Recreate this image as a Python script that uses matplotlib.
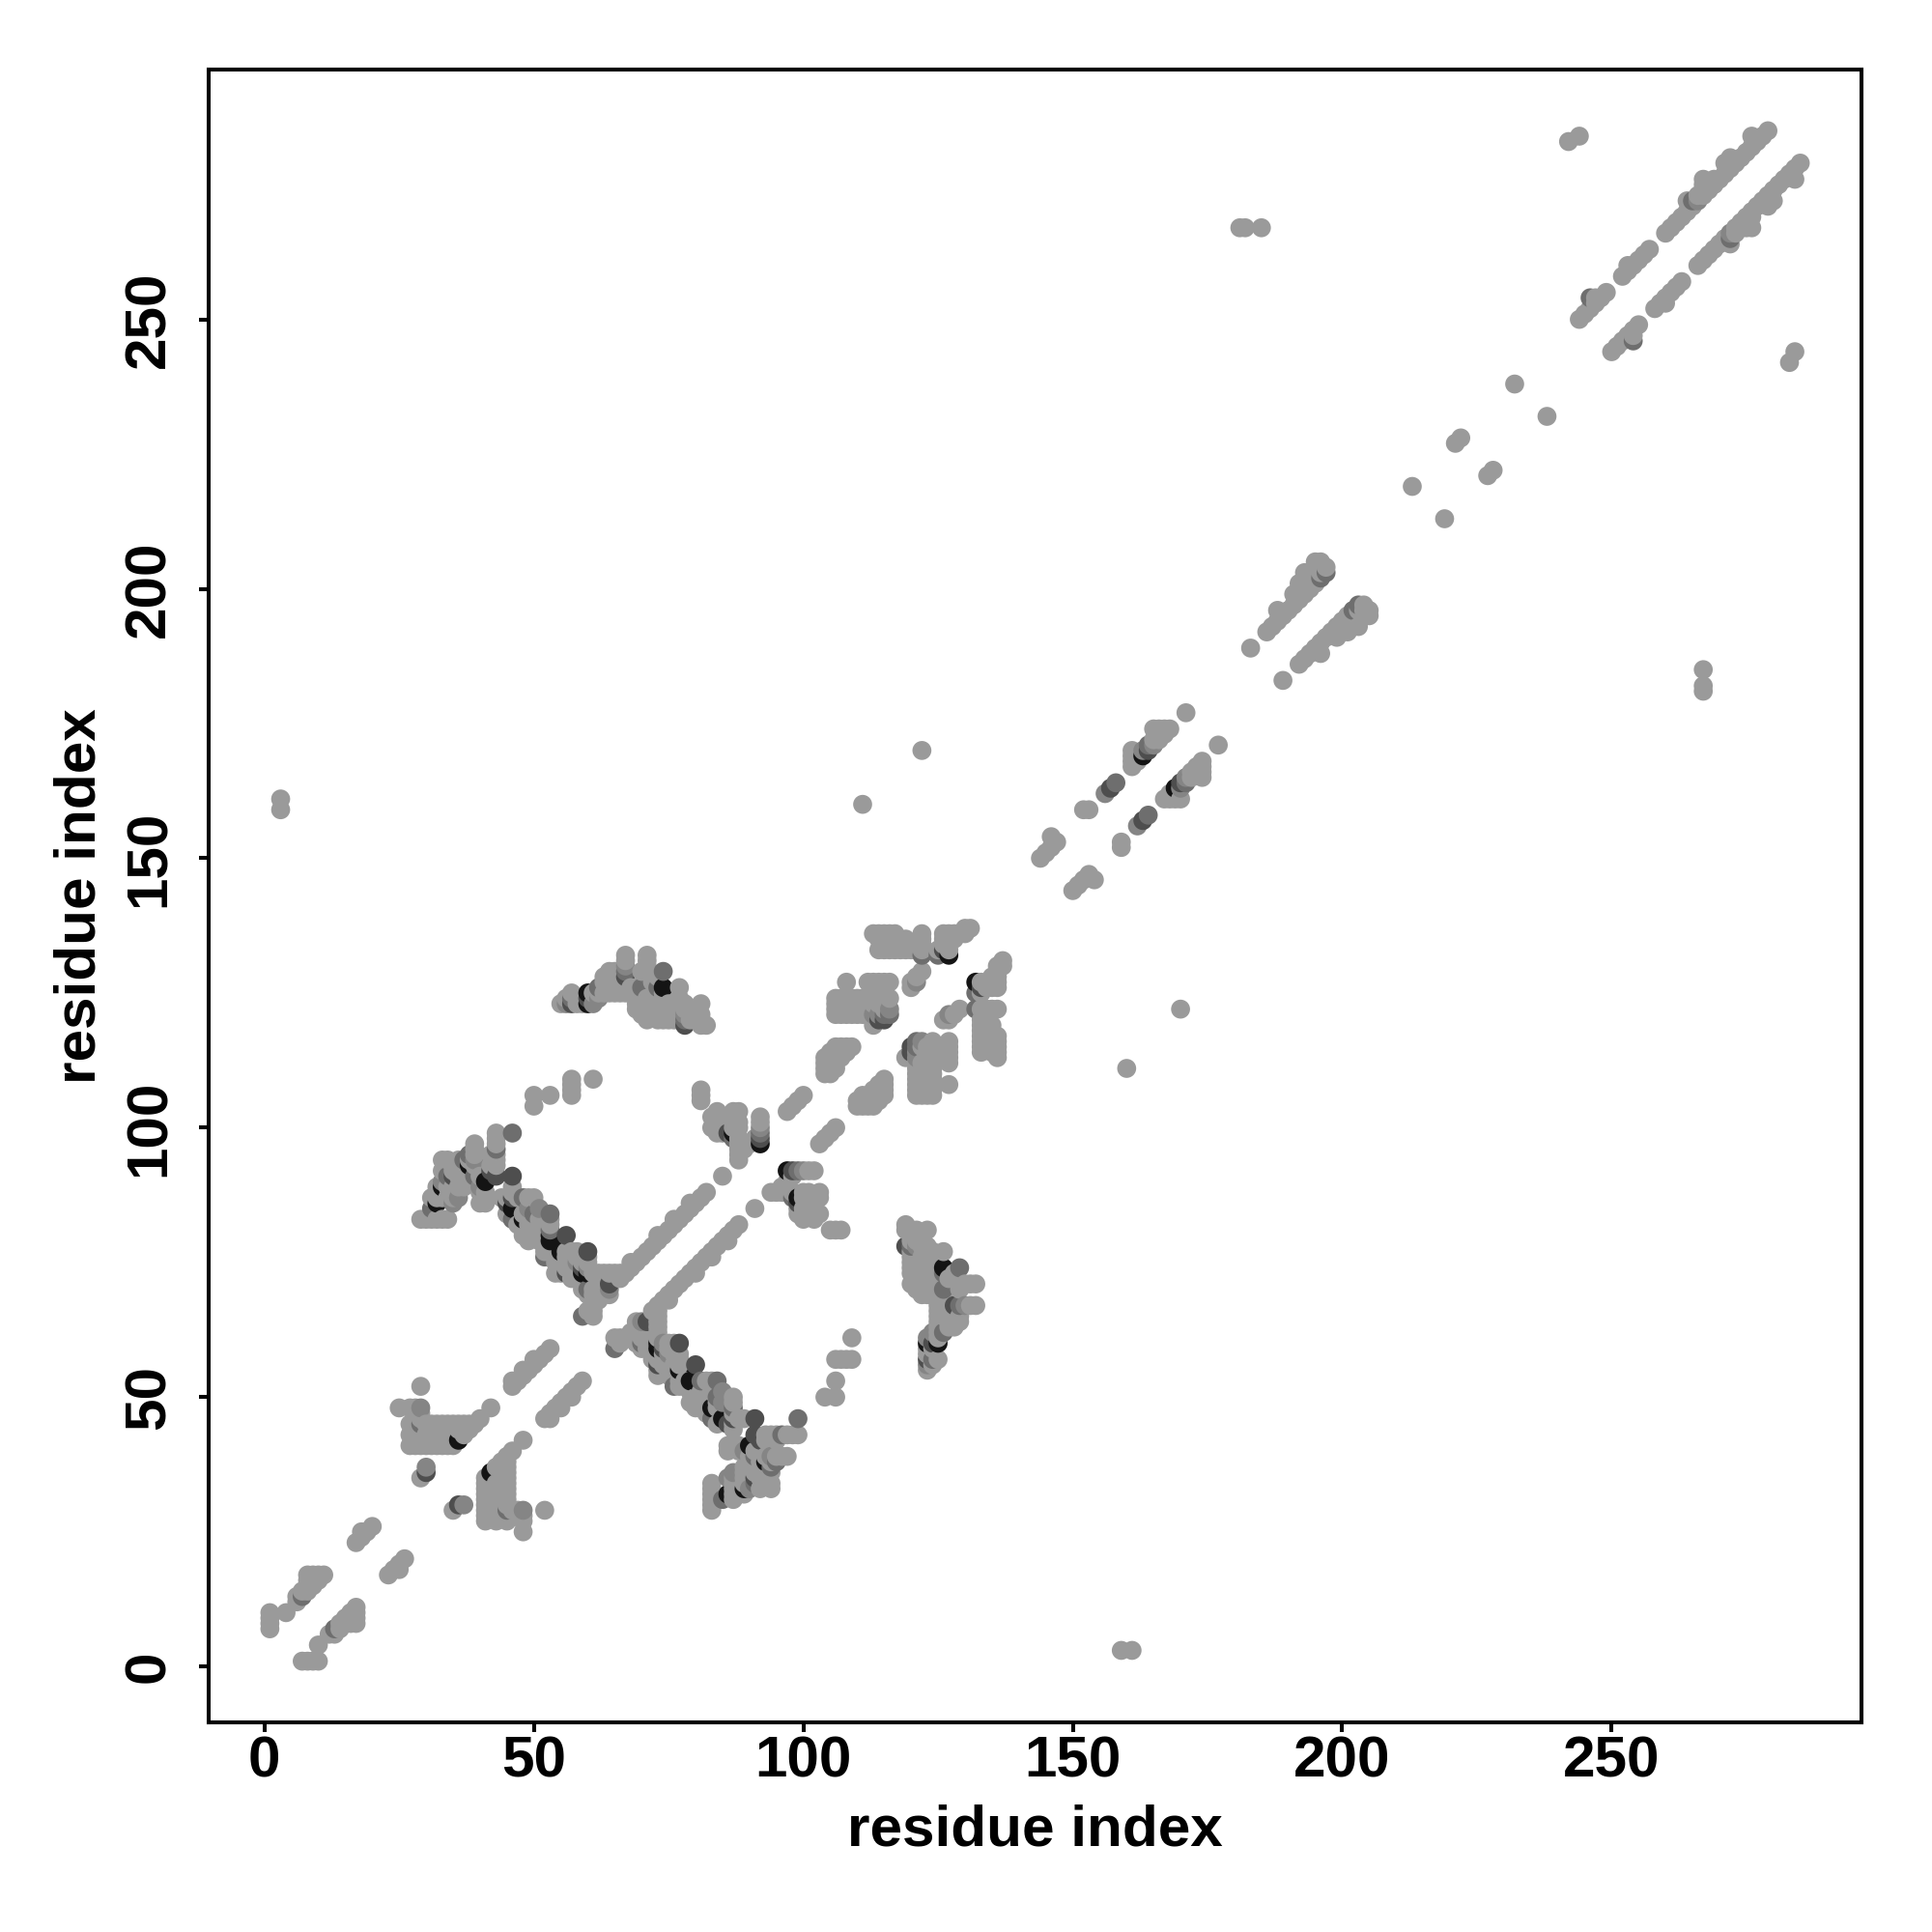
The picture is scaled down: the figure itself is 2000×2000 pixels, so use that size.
import matplotlib
matplotlib.use("Agg")
from matplotlib import pyplot as plt

plt.rcParams["font.family"] = ["Liberation Sans", "DejaVu Sans"]

# contacts as residue i -> list of residues j (i < j), the map is symmetric
base = {
    1: [7, 8, 9, 10], 4: [10], 6: [12, 13], 7: [14], 8: [14, 15, 16, 17],
    9: [15, 16, 17], 10: [16, 17], 11: [17], 17: [23], 18: [24, 25], 19: [25], 20: [26],
    25: [48], 27: [41, 43, 45, 48], 28: [41, 42, 44, 45, 48],
    29: [35, 41, 42, 43, 46, 47, 52, 83], 30: [37, 41, 43, 45, 83],
    31: [41, 43, 45, 83, 87], 32: [41, 43, 45, 83, 87, 88, 89], 33: [41, 42, 44, 45, 83, 87, 92, 94],
    34: [41, 43, 45, 83, 87, 89, 94], 35: [41, 42, 44, 45, 87, 89, 92],
    36: [44, 45, 89, 91, 94], 37: [43, 44, 45, 89, 91], 38: [44, 45, 90, 92, 94],
    39: [45, 90, 93, 95, 96, 97], 40: [46, 86, 88, 91], 41: [86, 87, 88],
    42: [48, 93, 95], 43: [93, 94, 95, 97, 98, 99], 44: [87], 45: [84, 87],
    46: [52, 53, 88, 89], 47: [53, 82, 87], 48: [54, 55, 80, 82, 84],
    49: [55, 79, 80, 82, 84, 87], 50: [56, 57, 80, 87, 104, 106], 51: [57, 79, 81, 83],
    52: [58, 77, 78], 53: [59, 77, 78, 82, 83, 106], 54: [73, 75], 55: [73, 75, 123],
    56: [74, 76, 77, 123, 124], 57: [72, 73, 77, 125, 106, 107, 108, 109], 58: [74, 76, 77, 123],
    59: [70, 71, 72, 75, 123, 124], 60: [66, 69, 75, 76],
    61: [65, 66, 69, 70, 73, 109, 125], 62: [68, 70, 73, 124, 125], 63: [73, 125, 127, 128],
    64: [69, 73, 125, 129], 65: [73, 125, 126, 129], 66: [72, 73, 125, 126], 67: [73, 125, 126, 130, 131, 132],
    68: [74, 75, 125, 126], 69: [75, 122, 123, 126], 70: [76, 121, 122, 124, 129],
    71: [77, 120, 121, 122, 123, 124, 129, 130, 131, 132], 72: [78, 121, 124, 127], 73: [79, 80, 120, 121, 128],
    74: [80, 120, 121, 122, 124, 125], 75: [81, 120, 122, 123], 76: [82, 83, 120, 122],
    77: [83, 120, 123, 124, 126], 78: [84, 122, 123], 79: [85, 86, 120, 121], 80: [86, 120, 121],
    81: [87, 105, 106, 107, 119, 120, 121, 123], 82: [88, 119], 83: [100, 102], 84: [99, 100, 101, 102, 103],
    85: [91, 99, 100], 87: [100, 101, 102, 103], 88: [94, 95, 96, 97, 98, 100, 101, 103],
    89: [96], 90: [97], 91: [98], 92: [101, 102],
    97: [103], 98: [104], 99: [105], 100: [106],
    104: [110, 111, 112, 113], 105: [110, 111, 112, 113, 114], 106: [111, 113, 114, 115, 121, 122, 123, 124],
    107: [113, 115, 121, 122, 123, 124], 108: [114, 115, 121, 122, 124, 127], 109: [115, 121, 123, 124],
    110: [121, 123, 124], 111: [121, 123, 124, 160], 112: [121, 122, 124, 127],
    113: [119, 123, 124, 127, 136], 114: [123, 124, 127, 133, 135, 136], 115: [122, 123, 127, 133, 135, 136],
    116: [124, 127, 133, 135, 136], 117: [133, 136], 118: [133], 119: [133, 135],
    120: [126, 127, 133], 121: [128, 127], 122: [129, 133, 134, 135, 136, 170], 125: [133],
    126: [134, 135, 136], 127: [133, 135, 136], 128: [135, 136], 129: [136], 130: [136, 137], 131: [137],
    3: [159, 161], 144: [150], 145: [151], 146: [152, 154], 147: [153], 152: [159], 153: [159],
    156: [162], 161: [167, 168, 169, 170], 162: [168], 165: [171, 172, 174], 166: [172, 173, 174],
    167: [173, 174], 168: [174], 171: [177], 183: [189], 186: [192], 187: [193], 188: [194, 196],
    189: [195], 190: [196], 191: [197, 199], 192: [198, 201], 193: [199, 202, 203], 194: [200],
    195: [201, 202, 205], 196: [203, 204, 205], 197: [204], 181: [267], 182: [267], 185: [267],
    213: [219], 221: [227], 222: [228], 232: [238], 242: [283], 244: [250, 284], 245: [251],
    246: [252], 247: [253, 254], 248: [254], 249: [255], 252: [258], 253: [259, 260], 254: [260],
    255: [261], 256: [262], 257: [263], 260: [266], 261: [267], 262: [268], 263: [269], 264: [270, 272],
    265: [271], 266: [273], 267: [273, 274, 275, 276], 268: [274, 275], 269: [275, 276], 270: [276],
    271: [277, 279], 272: [278, 280], 273: [279], 274: [280], 275: [281], 276: [282, 284], 277: [283],
    278: [284], 279: [285],
}
soft = {
    29: [48], 30: [37], 56: [123], 67: [130], 78: [121], 92: [100], 156: [162], 163: [170], 165: [171],
    266: [272], 33: [90], 36: [87], 35: [86], 49: [85], 60: [74], 64: [70], 113: [121], 114: [121],
    62: [124], 61: [123], 116: [122], 121: [127], 39: [94], 40: [89], 51: [85], 58: [75],
}
mid = {
    29: [45], 7: [13], 34: [91], 37: [94], 38: [95], 39: [91], 43: [96], 46: [83, 99], 48: [87], 50: [84],
    52: [76], 53: [81, 84], 57: [124], 59: [65], 60: [70], 67: [129], 74: [129], 78: [120], 92: [99],
    62: [126], 70: [126], 73: [126], 115: [121], 122: [132], 125: [132], 158: [164], 164: [171], 196: [202],
    197: [203], 265: [272], 246: [254], 116: [121], 87: [98], 31: [85],
}
dark = {
    30: [36], 43: [91], 46: [87, 91], 56: [73, 80], 59: [74], 60: [77, 124], 64: [71], 67: [128], 35: [91],
    78: [119], 92: [98], 126: [133], 57: [123], 114: [120], 115: [120], 157: [163], 164: [170], 42: [92],
    86: [99], 45: [86],
}
black = {
    32: [86], 33: [89], 36: [42], 38: [93], 41: [90], 46: [85], 48: [83], 53: [79, 80], 55: [77], 59: [73],
    60: [123, 125, 73], 87: [99], 92: [97], 127: [132], 74: [126], 163: [169],
}

shade_maps = [base, soft, mid, dark, black]
shade_colors = ["#9a9a9a", "#858585", "#6e6e6e", "#4e4e4e", "#141414"]
xticks = [0, 50, 100, 150, 200, 250]

# later shades win, then draw in residue order so higher ones sit on top
shades = {}
for contacts, col in zip(shade_maps, shade_colors):
    for i, js in contacts.items():
        for j in js:
            shades[(i, j)] = col
            shades[(j, i)] = col
points = sorted(shades)

fig = plt.figure(figsize=(10, 10), dpi=200)
ax = fig.add_axes([0.108, 0.1085, 0.8555, 0.8555])

ax.scatter([p[0] for p in points], [p[1] for p in points], s=50, linewidths=0,
           c=[shades[p] for p in points])

ax.set_xlim(-10.36, 296.36)
ax.set_ylim(-10.36, 296.36)
ax.set_xticks(xticks)
ax.set_yticks(xticks)
ax.tick_params(length=3.6, width=1.45, labelsize=21.7)
ax.tick_params(axis="x", pad=1.4)
ax.tick_params(axis="y", pad=8.5)
for lab in ax.get_xticklabels() + ax.get_yticklabels():
    lab.set_fontweight("bold")
for lab in ax.get_yticklabels():
    lab.set_rotation(90)
    lab.set_va("center")
for sp in ax.spines.values():
    sp.set_linewidth(1.45)
ax.set_xlabel("residue index", fontsize=21.7, fontweight="bold", labelpad=5.7)
ax.set_ylabel("residue index", fontsize=21.7, fontweight="bold", labelpad=6.1)

fig.savefig("out.png", dpi=200)
